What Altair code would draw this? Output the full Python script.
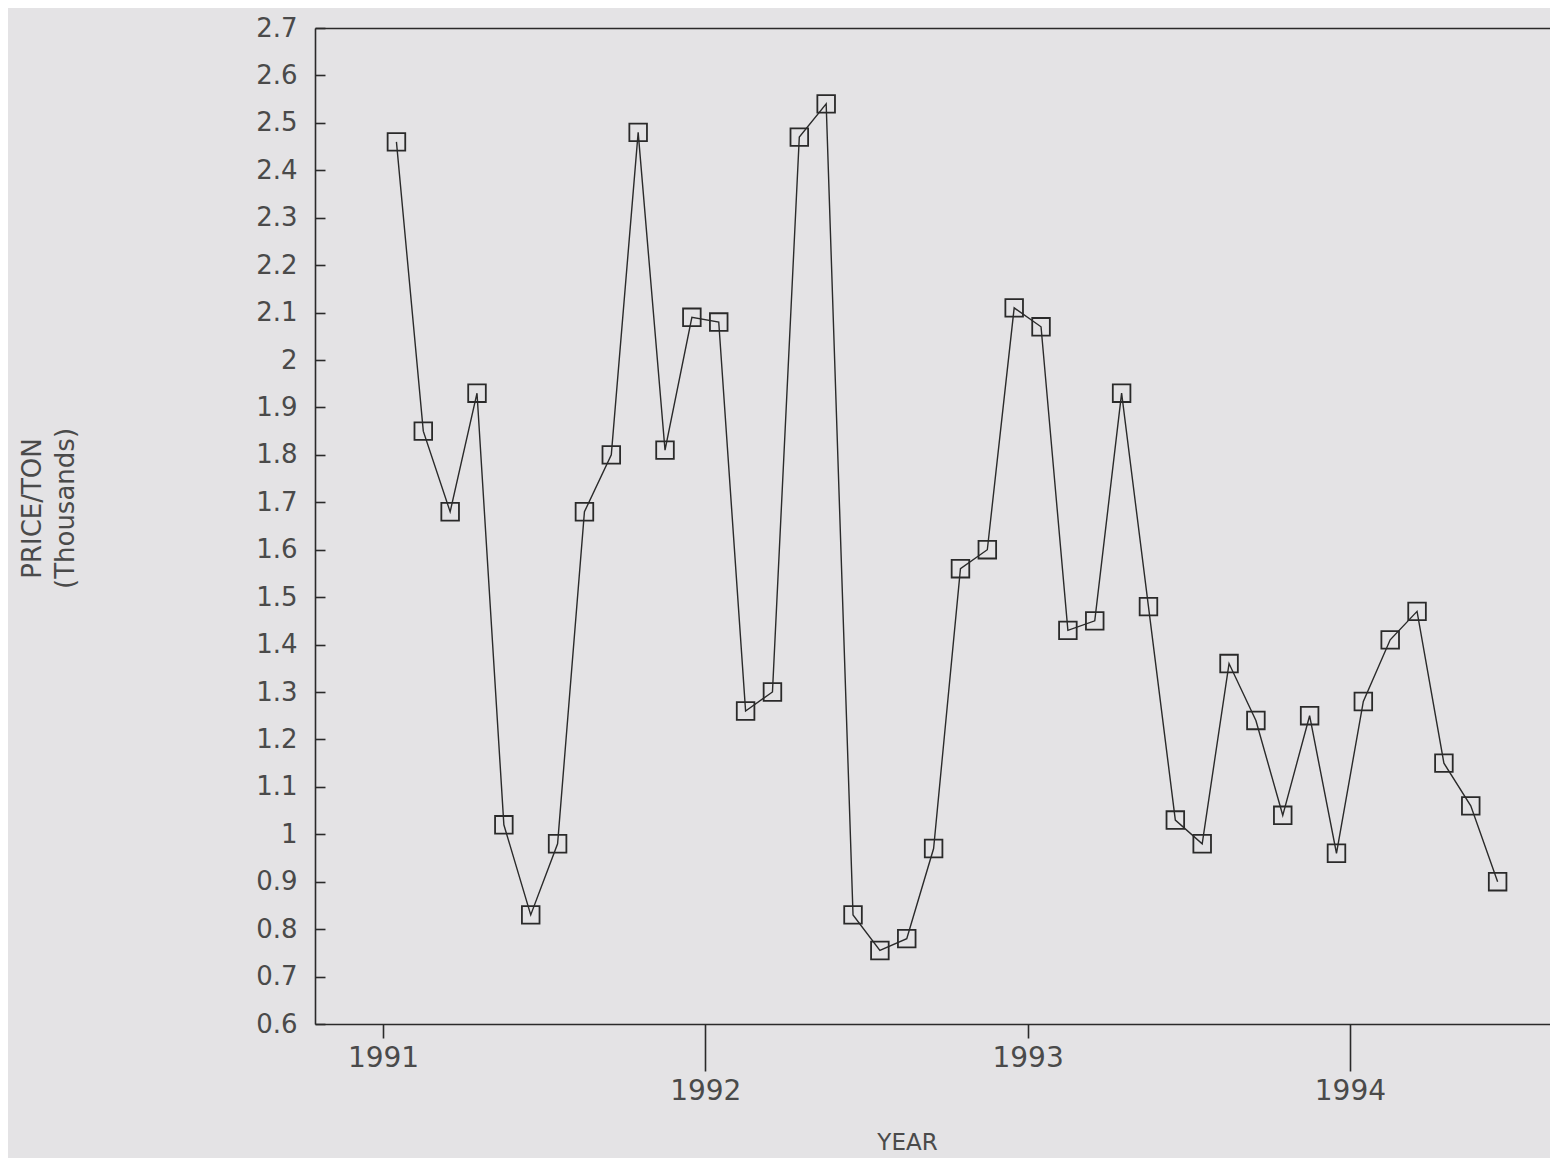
import altair as alt
import pandas as pd

# Monthly observations, Jan 1991 .. Jun 1994
months = [
    "1991-01", "1991-02", "1991-03", "1991-04", "1991-05", "1991-06",
    "1991-07", "1991-08", "1991-09", "1991-10", "1991-11", "1991-12",
    "1992-01", "1992-02", "1992-03", "1992-04", "1992-05", "1992-06",
    "1992-07", "1992-08", "1992-09", "1992-10", "1992-11", "1992-12",
    "1993-01", "1993-02", "1993-03", "1993-04", "1993-05", "1993-06",
    "1993-07", "1993-08", "1993-09", "1993-10", "1993-11", "1993-12",
    "1994-01", "1994-02", "1994-03", "1994-04", "1994-05", "1994-06",
]
price_thousands = [
    2.46, 1.85, 1.68, 1.93, 1.02, 0.83, 0.98, 1.68, 1.80, 2.48, 1.81, 2.09,
    2.08, 1.26, 1.30, 2.47, 2.54, 0.83, 0.755, 0.78, 0.97, 1.56, 1.60, 2.11,
    2.07, 1.43, 1.45, 1.93, 1.48, 1.03, 0.98, 1.36, 1.24, 1.04, 1.25, 0.96,
    1.28, 1.41, 1.47, 1.15, 1.06, 0.90,
]
year_ticks = [1991, 1992, 1993, 1994]
y_ticks = [0.6, 0.7, 0.8, 0.9, 1.0, 1.1, 1.2, 1.3, 1.4, 1.5, 1.6, 1.7, 1.8,
           1.9, 2.0, 2.1, 2.2, 2.3, 2.4, 2.5, 2.6, 2.7]

df = pd.DataFrame({"month": months, "price": price_thousands})
df["t"] = [int(m[:4]) + (int(m[5:]) - 0.5) / 12 for m in months]

FONT = "DejaVu Sans"
INK = "#2a2a2a"
TXT = "#4a4a4a"
BG = "#e4e3e5"

W, H = 1235, 996
xscale = alt.Scale(domain=[1990.789, 1990.789 + W / 322.3], nice=False, zero=False)
yscale = alt.Scale(domain=[0.6, 2.7], nice=False, zero=False)

x_bottom = alt.Axis(
    orient="bottom",
    values=year_ticks, format="d", grid=False,
    domainColor=INK, domainWidth=1.6, tickColor=INK, tickWidth=1.6,
    tickSize={"condition": {"test": "datum.value == 1992 || datum.value == 1994", "value": 47}, "value": 14},
    labelPadding=6, labelFont=FONT, labelFontSize=28, labelColor=TXT,
    title="YEAR", titleFont=FONT, titleFontSize=23, titleFontWeight="normal", titleColor=TXT,
    titleX=592, titleY=118, titleBaseline="middle", titleAlign="center",
)
y_left = alt.Axis(
    orient="left",
    values=y_ticks, format="~g", grid=False,
    domainColor=INK, domainWidth=1.6, tickColor=INK, tickWidth=1.6,
    tickSize={"expr": "-10"},
    labelPadding=28, labelFont=FONT, labelFontSize=26, labelColor=TXT,
    title=["PRICE/TON", "(Thousands)"], titleFont=FONT, titleFontSize=26,
    titleFontWeight="normal", titleColor=TXT, titleLineHeight=33,
    titleX=-270, titleY=480, titleBaseline="bottom", titleAlign="center", titleAngle=270,
)
x_top = alt.Axis(orient="top", labels=False, ticks=False, title=None, grid=False,
                 domainColor=INK, domainWidth=1.6)

base = alt.Chart(df)
line = base.mark_line(color=INK, strokeWidth=1.4).encode(
    x=alt.X("t:Q", scale=xscale, axis=x_bottom),
    y=alt.Y("price:Q", scale=yscale, axis=y_left),
)
pts = base.mark_point(shape="square", filled=False, size=310, color=INK,
                      strokeWidth=1.8, opacity=1).encode(
    x=alt.X("t:Q", scale=xscale, axis=None),
    y=alt.Y("price:Q", scale=yscale, axis=y_left),
)
frame_top = base.mark_point(opacity=0).encode(
    x=alt.X("t:Q", scale=xscale, axis=x_top),
    y=alt.Y("price:Q", scale=yscale, axis=y_left),
)

chart = (
    alt.layer(line, pts, frame_top)
    .resolve_scale(x="shared", y="shared")
    .resolve_axis(x="independent", y="shared")
    .properties(
        width=W, height=H,
        autosize=alt.AutoSizeParams(type="none"),
        padding={"left": 307, "top": 20, "right": 0, "bottom": 134},
        background=BG,
    )
    .configure_view(stroke=None)
)

chart.save("out.html", embed_options={"renderer": "svg", "actions": False})
